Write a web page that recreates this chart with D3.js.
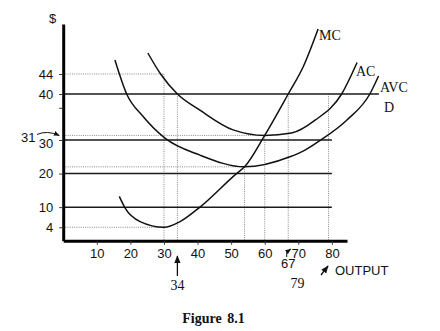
<!DOCTYPE html>
<html>
<head>
<meta charset="utf-8">
<script src="https://cdn.jsdelivr.net/npm/d3@7"></script>
<style>
  html, body { margin: 0; padding: 0; background: #fff; }
  svg { display: block; }
  .sans { font-family: "Liberation Sans", Arial, sans-serif; }
  .serif { font-family: "Liberation Serif", "Times New Roman", serif; }
</style>
</head>
<body>
<svg id="chart" width="440" height="331"></svg>
<script>
// ---- data ----
const xTicks = [10, 20, 30, 40, 50, 60, 70, 80];
const yTicks = [4, 10, 20, 30, 37, 40, 44];
const yTickLabels = ["4", "10", "20", "30", "", "40", "44"];

// horizontal price lines (solid) and how far they run along OUTPUT
const priceLevels = [10, 20, 30, 40];
const priceLineEnds = [80, 80, 80, 94];

// dotted guides: horizontal from the $ axis, vertical down to OUTPUT
const guideLevels = [44, 31, 22, 4];
const guideLevelEnds = [30, 60, 54, 30];
const guideOutputs = [30, 34, 54, 60, 67, 79];
const guideOutputTops = [44, 40, 22, 31, 40, 40];

// cost curves: [output, $]
const mcOutput = [16.7, 18.4, 22.9, 30, 34.8, 40.7, 51.6, 54, 60, 67, 71.5, 75.9];
const mcCost   = [13.2, 9.8, 5.7, 4, 5.7, 10, 20, 22, 31, 40, 45.5, 53];
const acOutput = [25.2, 29, 34, 40.7, 50.6, 60, 68, 75, 82.9, 87.5];
const acCost   = [48.2, 44, 40, 36.5, 32.2, 31, 31.5, 34.3, 40, 46.3];
const avcOutput = [15.4, 18.9, 23.8, 30.3, 40.7, 54, 67.5, 72, 76.7, 84.4, 91.3, 93.9];
const avcCost   = [46.8, 40, 35.1, 30.4, 25.5, 22, 25, 27, 30, 34.3, 40, 43.6];

// ---- scales ----
const svg = d3.select("#chart");
const x = d3.scaleLinear().domain([0, 84.5]).range([63.2, 347]);
// the $ axis is drawn stretched above 30 (not to scale)
const y = d3.scaleLinear().domain([0, 30, 40, 54]).range([240.7, 140, 94, 24]);

const ink = "#111";

// ---- dotted guides ----
const dotted = svg.append("g")
  .attr("stroke", "#8a8a8a").attr("stroke-width", 1)
  .attr("stroke-dasharray", "1,1.2").attr("fill", "none");
guideLevels.forEach((v, i) => {
  dotted.append("line")
    .attr("x1", x(0)).attr("x2", x(guideLevelEnds[i]))
    .attr("y1", y(v)).attr("y2", y(v));
});
guideOutputs.forEach((v, i) => {
  dotted.append("line")
    .attr("x1", x(v)).attr("x2", x(v))
    .attr("y1", y(guideOutputTops[i])).attr("y2", y(0));
});

// ---- price lines ----
const prices = svg.append("g").attr("stroke", "#1a1a1a").attr("stroke-width", 1.5);
priceLevels.forEach((v, i) => {
  prices.append("line")
    .attr("x1", x(0)).attr("x2", x(priceLineEnds[i]))
    .attr("y1", y(v)).attr("y2", y(v));
});

// ---- cost curves ----
const line = d3.line()
  .x(d => x(d[0])).y(d => y(d[1]))
  .curve(d3.curveMonotoneX);
const curves = [
  d3.zip(mcOutput, mcCost),
  d3.zip(acOutput, acCost),
  d3.zip(avcOutput, avcCost)
];
svg.append("g").selectAll("path").data(curves).join("path")
  .attr("d", line)
  .attr("fill", "none").attr("stroke", ink).attr("stroke-width", 1.5);

// ---- axes ----
const yAxis = svg.append("g")
  .attr("transform", `translate(${x(0)},0)`)
  .call(d3.axisLeft(y).tickValues(yTicks)
    .tickFormat((d, i) => yTickLabels[i]).tickSize(4).tickSizeOuter(0).tickPadding(6));
const xAxis = svg.append("g")
  .attr("transform", `translate(0,${y(0)})`)
  .call(d3.axisBottom(x).tickValues(xTicks).tickSize(4).tickSizeOuter(0).tickPadding(4));

[yAxis, xAxis].forEach(g => {
  g.select(".domain").attr("stroke", "#000").attr("stroke-width", 3);
  g.selectAll(".tick line").attr("stroke", "#333").attr("stroke-width", 1);
  g.selectAll(".tick text")
    .attr("fill", ink).attr("class", "sans").style("font-size", "13px");
});
yAxis.selectAll(".tick text").filter(d => d === 30).attr("dy", "0.55em");

// ---- arrowheads ----
const defs = svg.append("defs");
defs.append("marker")
  .attr("id", "head").attr("viewBox", "0 0 10 10")
  .attr("refX", 9).attr("refY", 5)
  .attr("markerWidth", 6).attr("markerHeight", 6)
  .attr("orient", "auto")
  .append("path").attr("d", "M0,1 L10,5 L0,9 Z").attr("fill", ink);

// ---- annotations ----
const ann = svg.append("g").attr("fill", ink);

ann.append("text").attr("class", "sans").attr("x", 52.5).attr("y", 23)
  .attr("text-anchor", "middle").style("font-size", "13px").text("$");

// 31 with a curved pointer to the axis
ann.append("text").attr("class", "sans").attr("x", 35.5).attr("y", 142)
  .attr("text-anchor", "end").style("font-size", "13px").text("31");
svg.append("path")
  .attr("d", `M37,134.5 Q47,130 ${x(0) - 4},${y(31)}`)
  .attr("fill", "none").attr("stroke", ink).attr("stroke-width", 1)
  .attr("marker-end", "url(#head)");

// 34 under the axis
ann.append("text").attr("class", "serif").attr("x", x(34)).attr("y", 290)
  .attr("text-anchor", "middle").style("font-size", "14px").text("34");
svg.append("line")
  .attr("x1", x(34)).attr("x2", x(34)).attr("y1", 276).attr("y2", 256)
  .attr("stroke", ink).attr("stroke-width", 1.3).attr("marker-end", "url(#head)");

// 67 with a small hook pointer
ann.append("text").attr("class", "sans").attr("x", x(67)).attr("y", 268)
  .attr("text-anchor", "middle").style("font-size", "13px").text("67");
svg.append("path")
  .attr("d", `M${x(67) - 1.5},257 L${x(67) - 1.5},252 L${x(67) + 2.5},249`)
  .attr("fill", "none").attr("stroke", ink).attr("stroke-width", 1)
  .attr("marker-end", "url(#head)");

// 79 and OUTPUT
ann.append("text").attr("class", "serif").attr("x", 297.5).attr("y", 288)
  .attr("text-anchor", "middle").style("font-size", "14px").text("79");
svg.append("line")
  .attr("x1", 321).attr("y1", 275).attr("x2", 328).attr("y2", 266)
  .attr("stroke", ink).attr("stroke-width", 1.3).attr("marker-end", "url(#head)");
ann.append("text").attr("class", "sans").attr("x", 335).attr("y", 275)
  .style("font-size", "13px").text("OUTPUT");

// curve labels
const curveLabels = [
  { t: "MC", x: 319, y: 40 },
  { t: "AC", x: 356, y: 76 },
  { t: "AVC", x: 380, y: 92 },
  { t: "D", x: 384, y: 112 }
];
ann.selectAll("text.curve-label").data(curveLabels).join("text")
  .attr("class", "serif curve-label")
  .attr("x", d => d.x).attr("y", d => d.y)
  .style("font-size", "14px").text(d => d.t);

// caption
svg.append("text").attr("class", "serif")
  .attr("x", 213.5).attr("y", 323).attr("text-anchor", "middle")
  .attr("font-weight", "bold").attr("fill", ink)
  .style("font-size", "14px").style("word-spacing", "2px")
  .text("Figure 8.1");
</script>
</body>
</html>
